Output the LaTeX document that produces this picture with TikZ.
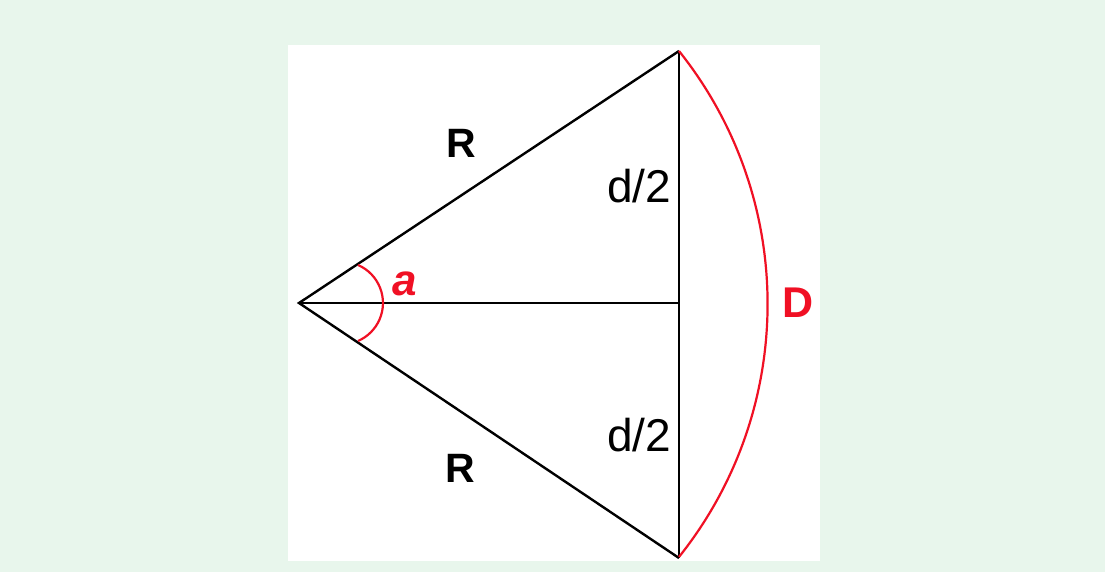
\documentclass[tikz,border=0pt]{standalone}
\usepackage{fontspec}
\setmainfont{Liberation Sans}
\definecolor{bggreen}{RGB}{232,246,236}
\definecolor{myred}{RGB}{240,16,36}
\tikzset{
  edge/.style={line width=2.4pt, black},
  redline/.style={line width=2.2pt, myred},
  lbl/.style={inner sep=0pt, anchor=center},
}
\begin{document}
\begin{tikzpicture}[x=1pt,y=-1pt]
  \fill[bggreen] (0,0) rectangle (1105,572);
  \useasboundingbox (0,0) rectangle (1105,572);
  \fill[white] (288,45) rectangle (820,561);
  \coordinate (O) at (299,303);
  \coordinate (T) at (679,51);
  \coordinate (B) at (679,558);
  \coordinate (M) at (679,303);
  \coordinate (AU) at (358,265);
  % triangle
  \draw[edge, line join=miter] (T) -- (O) -- (B);
  \draw[edge] (T) -- (B);
  \draw[edge] (O) -- (M);
  % angle arc
  \draw[redline] (AU) arc[start angle=-66.6, end angle=66.6, radius=41.4];
  % D arc
  \draw[redline] (T) arc[start angle=-38.6, end angle=38.6, radius=405.5];
  % labels
  \node[lbl] (R1) at (461,143) {\fontsize{41}{48}\selectfont\bfseries R};
  \node[lbl] (R2) at (460,468) {\fontsize{41}{48}\selectfont\bfseries R};
  \node[lbl] (d1) at (639,186) {\fontsize{46}{54}\selectfont d/2};
  \node[lbl] (d2) at (639,435) {\fontsize{46}{54}\selectfont d/2};
  \node[lbl, text=myred, anchor=base] (a) at (405,295) {\fontsize{44}{52}\selectfont\bfseries\itshape a};
  \node[lbl, text=myred] (D) at (798,303) {\fontsize{43}{50}\selectfont\bfseries D};
\end{tikzpicture}
\end{document}
